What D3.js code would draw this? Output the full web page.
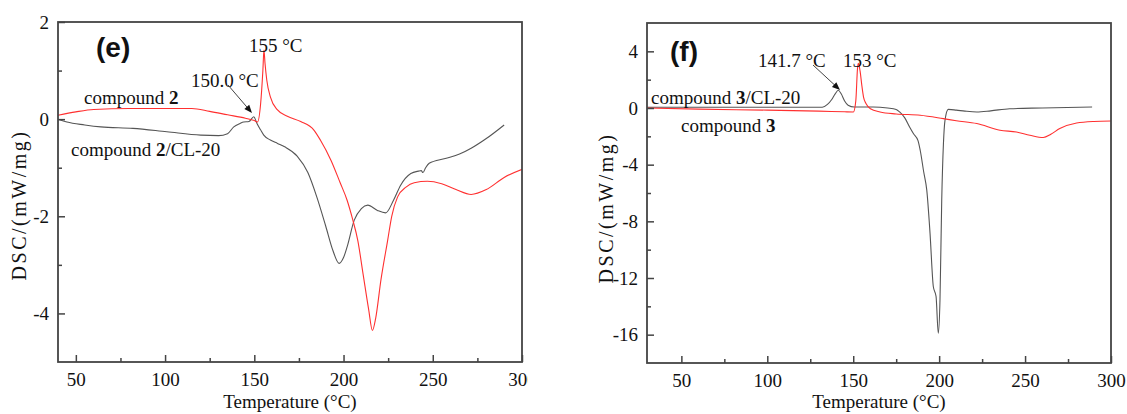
<!DOCTYPE html>
<html>
<head>
<meta charset="utf-8">
<script src="https://cdn.jsdelivr.net/npm/d3@7"></script>
<style>
  body { margin: 0; background: #fff; }
</style>
</head>
<body>
<div id="chart"></div>
<script>
// panel (e): compound 2 (red) and compound 2/CL-20 (black)
var eRedT = [40, 50, 60, 80, 100, 115, 125, 135, 145, 150, 151.8, 153.5, 154.8, 155.4, 156, 157, 159, 163, 168.5, 176, 183.5, 187, 193, 198, 202, 205, 208, 211, 214, 216.2, 218, 221, 224.7, 227, 230.3, 235, 239.6, 247, 255, 263, 271.5, 280, 290, 301];
var eRedV = [0.08, 0.15, 0.2, 0.22, 0.22, 0.22, 0.16, 0.09, 0.02, -0.03, -0.06, 0.3, 1.0, 1.42, 1.15, 0.8, 0.46, 0.19, 0.06, -0.05, -0.23, -0.43, -0.85, -1.3, -1.67, -2.05, -2.5, -3.2, -3.9, -4.35, -4.1, -3.3, -2.5, -2.0, -1.6, -1.4, -1.31, -1.28, -1.33, -1.45, -1.55, -1.45, -1.2, -1.02];
var eBlkT = [40, 45, 55, 64, 82, 101, 120, 130, 135, 138.5, 142, 144, 147, 149.7, 151.5, 153.5, 155.3, 159, 163, 167, 174, 180, 185, 190, 194, 197.5, 200, 202, 206, 210, 213.6, 219, 223.6, 228, 232, 237.7, 242, 243.5, 244.5, 246, 248, 257, 265, 271.5, 280, 290];
var eBlkV = [0, -0.06, -0.12, -0.16, -0.19, -0.26, -0.33, -0.34, -0.3, -0.16, -0.09, -0.06, -0.05, 0.05, -0.09, -0.22, -0.33, -0.43, -0.5, -0.57, -0.76, -1.1, -1.6, -2.2, -2.7, -2.97, -2.85, -2.63, -2.08, -1.84, -1.77, -1.88, -1.93, -1.67, -1.36, -1.12, -1.07, -1.06, -1.1, -1.0, -0.91, -0.81, -0.72, -0.6, -0.4, -0.12];

// panel (f): compound 3 (red) and compound 3/CL-20 (black)
var fRedT = [30, 60, 100, 130, 145, 150.1, 151.5, 152.5, 153, 154, 155, 156, 157.5, 160, 165.6, 175, 189, 202.4, 210, 221.9, 235.4, 245, 252.8, 260.6, 265, 270.2, 280, 290, 300];
var fRedV = [0, -0.08, -0.15, -0.22, -0.27, -0.28, 0.5, 2.8, 3.15, 2.6, 1.6, 0.77, 0.3, -0.05, -0.28, -0.42, -0.51, -0.75, -0.9, -1.1, -1.57, -1.69, -1.92, -2.08, -1.85, -1.45, -1.06, -0.95, -0.92];
var fBlkT = [30, 60, 100, 125, 132, 135, 137.5, 139.5, 141.3, 143, 145, 147, 150.6, 161.6, 170, 175, 177, 180, 182.8, 185, 187.7, 189, 191, 192.8, 194.7, 196.6, 198.2, 199.5, 200.5, 201.5, 202.5, 203.4, 205.3, 210, 215, 221.9, 230, 241, 260, 289];
var fBlkV = [0.05, 0.05, 0.05, 0.05, 0.05, 0.25, 0.6, 1.0, 1.25, 1.0, 0.5, 0.2, 0.07, 0.07, 0, -0.1, -0.28, -0.7, -1.34, -1.8, -2.3, -3.0, -4.5, -5.8, -8.85, -12.6, -13.3, -15.9, -13.5, -6.5, -2.5, -0.87, -0.1, -0.15, -0.22, -0.28, -0.2, -0.05, 0.0, 0.07];

var eXTicks = [50, 100, 150, 200, 250, 300];
var eYTicks = [2, 0, -2, -4];
var fXTicks = [50, 100, 150, 200, 250, 300];
var fYTicks = [4, 0, -4, -8, -12, -16];

var serif = "'Liberation Serif', 'Times New Roman', Times, 'DejaVu Serif', serif";
var width = 1127, height = 414;
var svg = d3.select('#chart').append('svg')
  .attr('width', width)
  .attr('height', height);

function zip(ts, vs) {
  return ts.map(function(t, i) { return [t, vs[i]]; });
}

// plain hyphen for negatives, like the original
function fmt(d) { return String(d); }

function drawPanel(p) {
  var g = svg.append('g');
  if (p.clipRight) {
    svg.append('clipPath').attr('id', p.id + '-clip')
      .append('rect').attr('x', 0).attr('y', 0).attr('width', p.clipRight).attr('height', height);
    g.attr('clip-path', 'url(#' + p.id + '-clip)');
  }
  var x = d3.scaleLinear().domain(p.xDomain).range([p.left, p.right]);
  var y = d3.scaleLinear().domain(p.yDomain).range([p.bottom, p.top]);

  svg.append('clipPath').attr('id', p.id + '-plot')
    .append('rect').attr('x', p.left).attr('y', p.top)
    .attr('width', p.right - p.left).attr('height', p.bottom - p.top);

  var line = d3.line()
    .x(function(d) { return x(d[0]); })
    .y(function(d) { return y(d[1]); })
    .curve(d3.curveMonotoneX);

  var lines = g.append('g').attr('clip-path', 'url(#' + p.id + '-plot)');
  lines.append('path').datum(zip(p.blkT, p.blkV))
    .attr('d', line).attr('fill', 'none').attr('stroke', '#555').attr('stroke-width', 1.1);
  lines.append('path').datum(zip(p.redT, p.redV))
    .attr('d', line).attr('fill', 'none').attr('stroke', '#ff3030').attr('stroke-width', 1.1);

  // axes, ticks pointing inward
  var xAxis = d3.axisBottom(x).tickValues(p.xTicks).tickSize(-7).tickPadding(11).tickFormat(fmt);
  var yAxis = d3.axisLeft(y).tickValues(p.yTicks).tickSize(-7).tickPadding(9).tickFormat(fmt);
  var xMinor = d3.axisBottom(x).tickValues(p.xMinor).tickSize(-4).tickFormat('');
  var yMinor = d3.axisLeft(y).tickValues(p.yMinor).tickSize(-4).tickFormat('');

  [[xAxis, 'b'], [xMinor, 'b'], [yAxis, 'l'], [yMinor, 'l']].forEach(function(a) {
    var ag = g.append('g')
      .attr('transform', a[1] === 'b' ? 'translate(0,' + p.bottom + ')' : 'translate(' + p.left + ',0)')
      .call(a[0]);
    ag.attr('font-family', serif).attr('font-size', 19);
    ag.select('.domain').remove();
    ag.selectAll('line').attr('stroke', '#444').attr('stroke-width', 1.5);
    ag.selectAll('text').attr('font-size', 19).attr('font-family', serif).attr('fill', '#111');
  });

  g.append('rect')
    .attr('x', p.left).attr('y', p.top)
    .attr('width', p.right - p.left).attr('height', p.bottom - p.top)
    .attr('fill', 'none').attr('stroke', '#444').attr('stroke-width', 1.8);

  g.append('text')
    .attr('x', (p.left + p.right) / 2).attr('y', 408)
    .attr('text-anchor', 'middle').attr('font-size', 19)
    .attr('font-family', serif).attr('fill', '#111')
    .text('Temperature (°C)');

  g.append('text')
    .attr('transform', 'translate(' + p.yTitleX + ',' + p.yTitleY + ') rotate(-90)')
    .attr('text-anchor', 'middle').attr('font-size', 20)
    .attr('font-family', serif).attr('fill', '#111')
    .attr('letter-spacing', 2.5)
    .text('DSC/(mW/mg)');

  g.append('text')
    .attr('x', p.tag[0]).attr('y', p.tag[1])
    .attr('font-family', "'Liberation Sans', Arial, sans-serif")
    .attr('font-weight', 'bold').attr('font-size', 28).attr('fill', '#111')
    .text(p.tagText);

  p.notes.forEach(function(n) {
    var t = g.append('text').attr('x', n.x).attr('y', n.y)
      .attr('font-size', 19).attr('font-family', serif).attr('fill', '#111');
    n.parts.forEach(function(part) {
      t.append('tspan').attr('font-weight', part.b ? 'bold' : 'normal').text(part.s);
    });
  });

  // arrow
  var a = p.arrow;
  var ang = Math.atan2(a[3] - a[1], a[2] - a[0]);
  g.append('line')
    .attr('x1', a[0]).attr('y1', a[1]).attr('x2', a[2] - 6 * Math.cos(ang)).attr('y2', a[3] - 6 * Math.sin(ang))
    .attr('stroke', '#444').attr('stroke-width', 1);
  var hl = 8, hw = 3.2;
  var bx = a[2] - hl * Math.cos(ang), by = a[3] - hl * Math.sin(ang);
  g.append('path')
    .attr('d', 'M' + a[2] + ',' + a[3] +
      'L' + (bx - hw * Math.sin(ang)) + ',' + (by + hw * Math.cos(ang)) +
      'L' + (bx + hw * Math.sin(ang)) + ',' + (by - hw * Math.cos(ang)) + 'Z')
    .attr('fill', '#111');
}

drawPanel({
  id: 'e', left: 58, right: 522, top: 22, bottom: 362,
  xDomain: [40, 300], yDomain: [-5, 2],
  xTicks: eXTicks, yTicks: eYTicks,
  xMinor: [75, 125, 175, 225, 275], yMinor: [1, -1, -3],
  redT: eRedT, redV: eRedV, blkT: eBlkT, blkV: eBlkV,
  clipRight: 528,
  yTitleX: 26, yTitleY: 205,
  tag: [96, 57], tagText: '(e)',
  notes: [
    { x: 249, y: 52, parts: [{ s: '155 °C' }] },
    { x: 191, y: 87, parts: [{ s: '150.0 °C' }] },
    { x: 84, y: 104, parts: [{ s: 'compound ' }, { s: '2', b: true }] },
    { x: 71, y: 156, parts: [{ s: 'compound ' }, { s: '2', b: true }, { s: '/CL-20' }] }
  ],
  arrow: [228, 85, 252, 113]
});

drawPanel({
  id: 'f', left: 647, right: 1111, top: 23, bottom: 363,
  xDomain: [30, 300], yDomain: [-18, 6],
  xTicks: fXTicks, yTicks: fYTicks,
  xMinor: [75, 125, 175, 225, 275], yMinor: [2, -2, -6, -10, -14],
  redT: fRedT, redV: fRedV, blkT: fBlkT, blkV: fBlkV,
  clipRight: null,
  yTitleX: 613, yTitleY: 208,
  tag: [670, 61], tagText: '(f)',
  notes: [
    { x: 758, y: 67, parts: [{ s: '141.7 °C' }] },
    { x: 843, y: 67, parts: [{ s: '153 °C' }] },
    { x: 651, y: 104, parts: [{ s: 'compound ' }, { s: '3', b: true }, { s: '/CL-20' }] },
    { x: 681, y: 132, parts: [{ s: 'compound ' }, { s: '3', b: true }] }
  ],
  arrow: [813, 65, 840, 90]
});
</script>
</body>
</html>
